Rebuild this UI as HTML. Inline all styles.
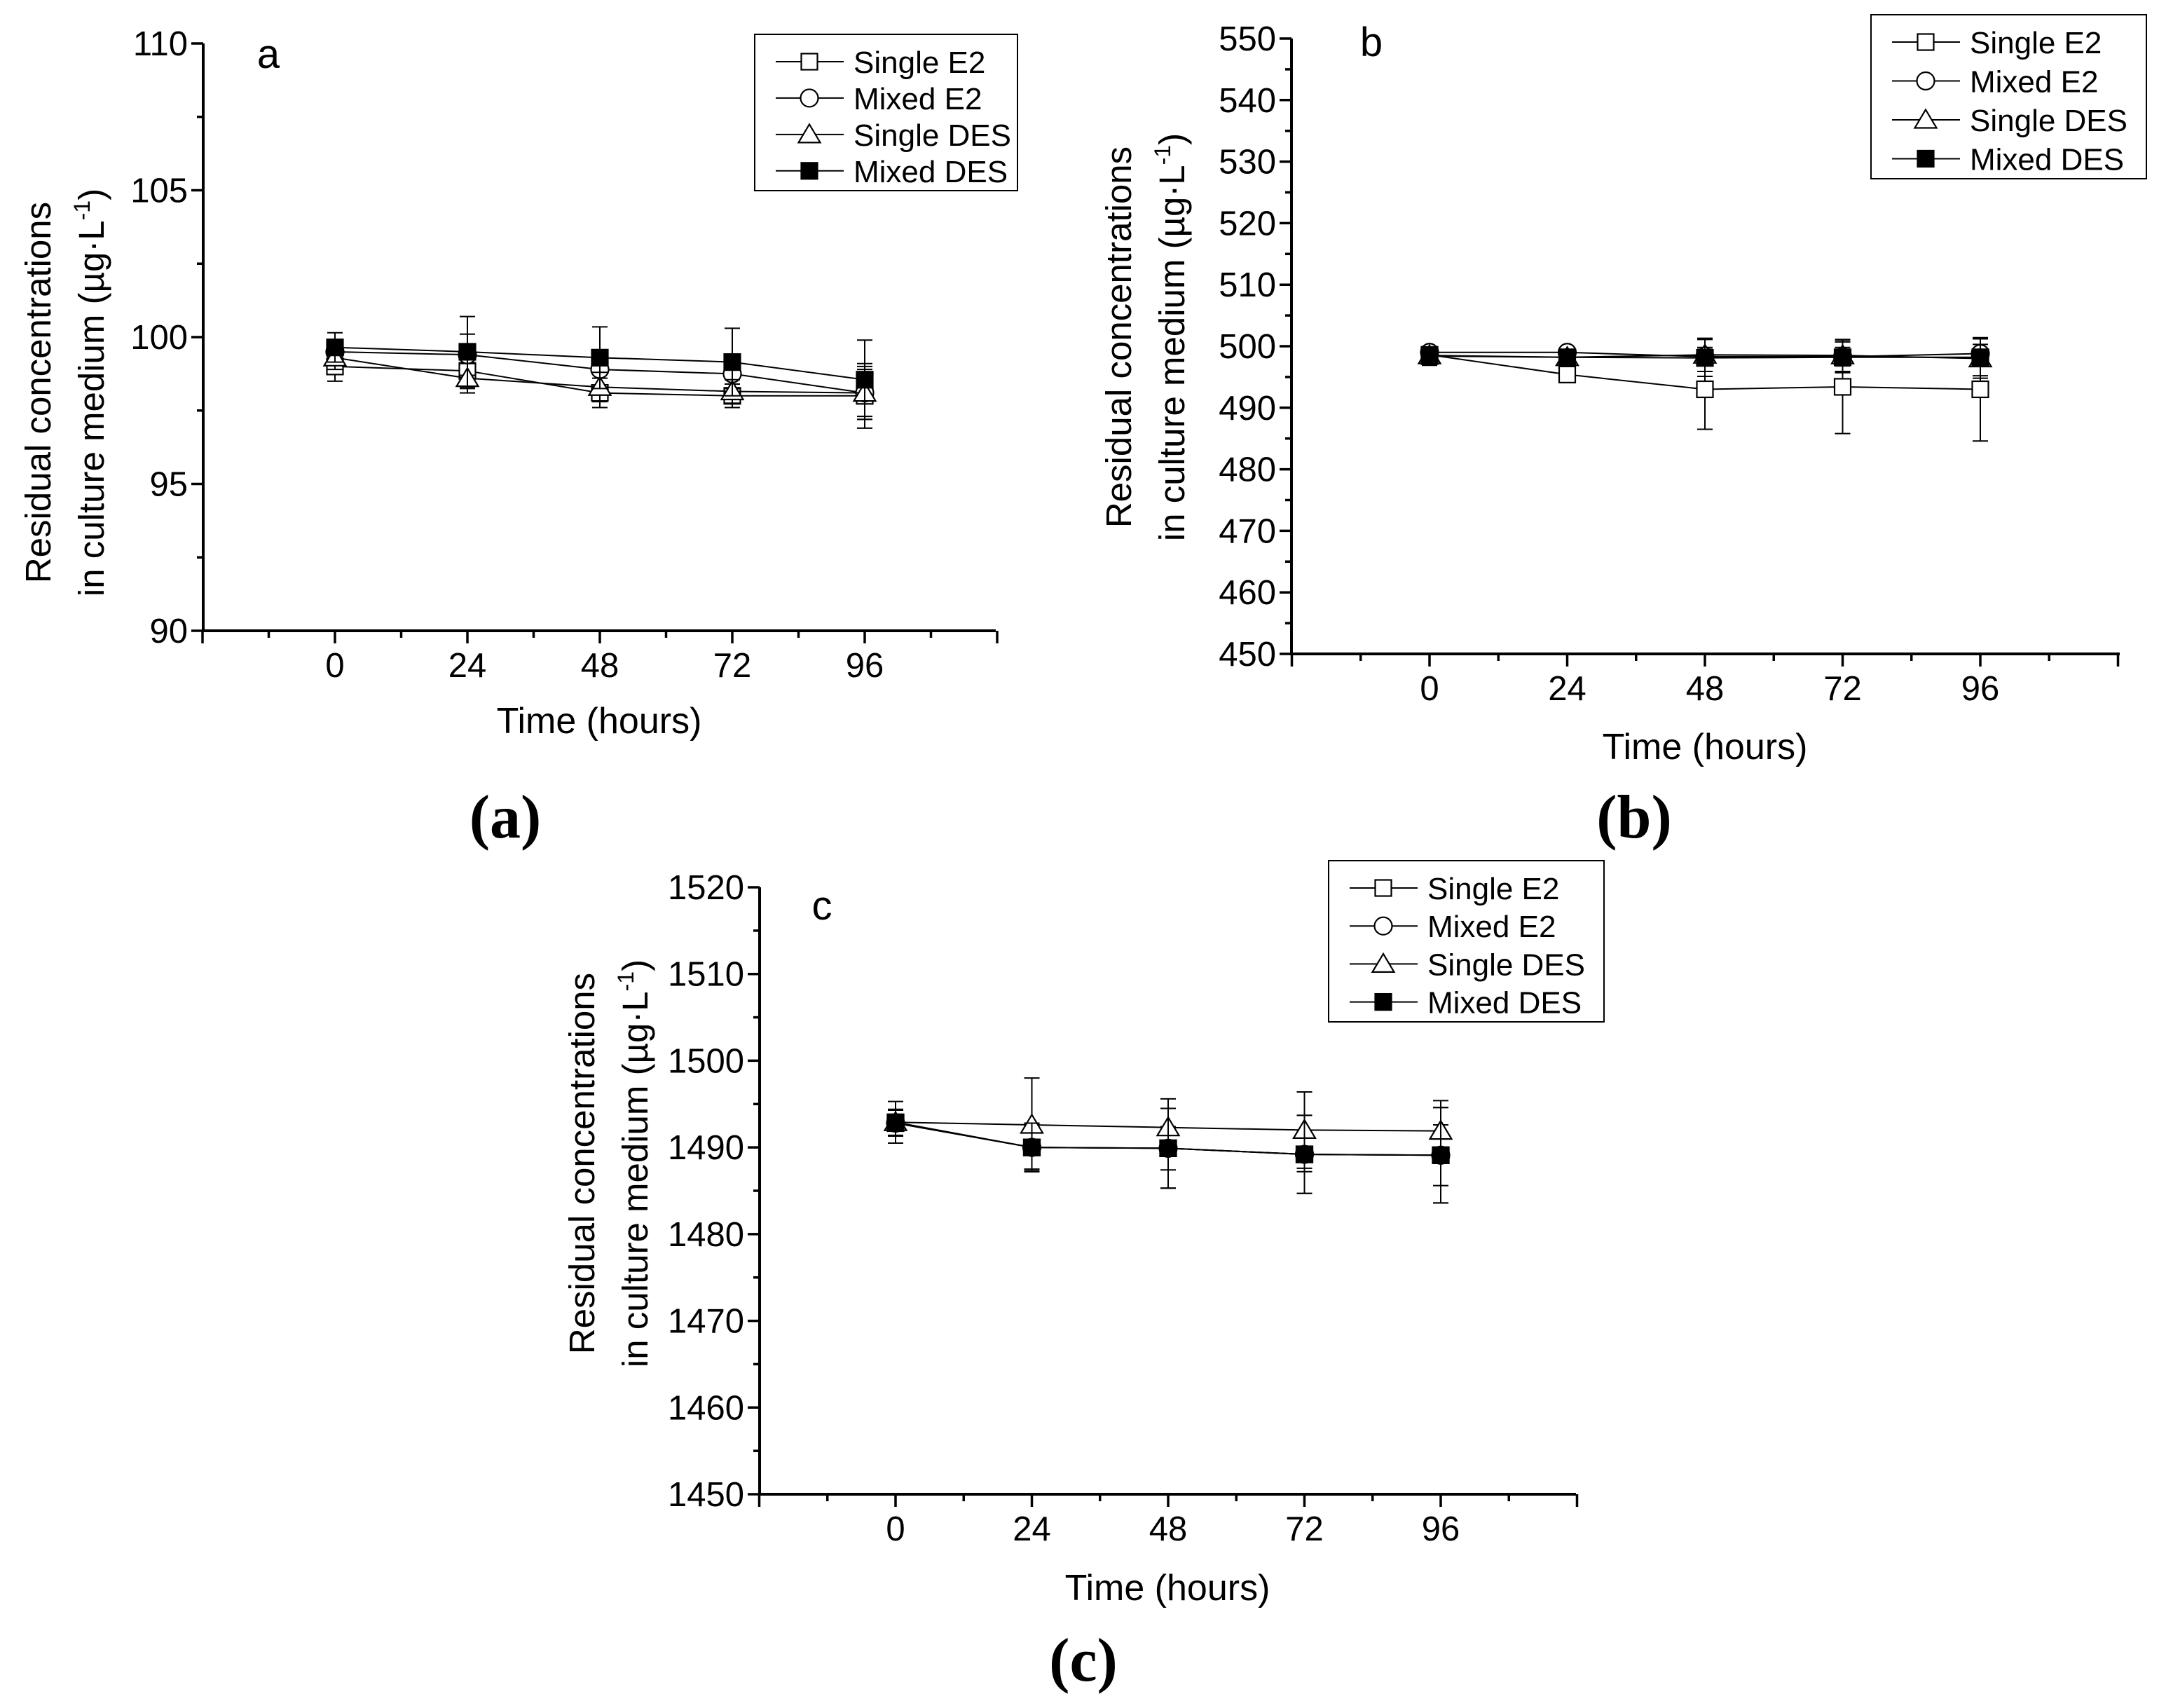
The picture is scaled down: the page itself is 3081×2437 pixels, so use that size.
<!DOCTYPE html>
<html><head><meta charset="utf-8"><style>
html,body{margin:0;padding:0;background:#fff;}
svg{display:block;}
text{font-family:"Liberation Sans",Arial,sans-serif;fill:#000;}
.cap{font-family:"Liberation Serif",serif;font-weight:bold;}
</style></head><body>
<svg id="fig" width="3081" height="2437" viewBox="0 0 3081 2437" xmlns="http://www.w3.org/2000/svg"></svg>
<script>
// shared categories
const hours = [0, 24, 48, 72, 96];
const seriesNames = ["Single E2", "Mixed E2", "Single DES", "Mixed DES"];
// panel a
const aTicks = [90, 95, 100, 105, 110];
const aSingleE2 = [99.0, 98.85, 98.1, 98.0, 98.0];
const aMixedE2 = [99.5, 99.4, 98.9, 98.75, 98.1];
const aSingleDES = [99.3, 98.6, 98.3, 98.15, 98.1];
const aMixedDES = [99.65, 99.5, 99.3, 99.15, 98.55];
const aErrSingleE2 = [0.5, 0.6, 0.5, 0.4, 1.1];
const aErrMixedE2 = [0.3, 0.7, 0.6, 0.5, 0.9];
const aErrSingleDES = [0.4, 0.5, 0.5, 0.4, 0.8];
const aErrMixedDES = [0.5, 1.2, 1.05, 1.15, 1.35];
// panel b
const bTicks = [450, 460, 470, 480, 490, 500, 510, 520, 530, 540, 550];
const bSingleE2 = [498.6, 495.4, 493.0, 493.4, 493.0];
const bMixedE2 = [499.0, 499.0, 498.3, 498.3, 498.8];
const bSingleDES = [498.5, 498.2, 498.6, 498.5, 498.0];
const bMixedDES = [498.4, 498.2, 498.1, 498.2, 498.2];
const bErrSingleE2 = [0.6, 1.3, 6.5, 7.6, 8.4];
const bErrMixedE2 = [0.5, 0.8, 1.5, 1.5, 1.5];
const bErrSingleDES = [0.8, 1.0, 2.7, 2.6, 3.2];
const bErrMixedDES = [1.5, 1.2, 3.0, 2.5, 3.0];
// panel c
const cTicks = [1450, 1460, 1470, 1480, 1490, 1500, 1510, 1520];
const cSingleE2 = [1492.8, 1490.0, 1489.9, 1489.2, 1489.1];
const cMixedE2 = [1492.8, 1490.0, 1489.9, 1489.2, 1489.1];
const cSingleDES = [1492.9, 1492.6, 1492.3, 1492.0, 1491.9];
const cMixedDES = [1492.9, 1490.0, 1489.9, 1489.2, 1489.1];
const cErrSingleE2 = [1.5, 2.5, 4.6, 4.5, 5.5];
const cErrMixedE2 = [1.5, 2.7, 2.5, 2.0, 3.5];
const cErrSingleDES = [1.5, 5.4, 3.3, 4.4, 3.5];
const cErrMixedDES = [2.4, 2.8, 4.6, 4.5, 5.5];

const NS = "http://www.w3.org/2000/svg";
const svg = document.getElementById("fig");
function mk(tag, attrs, parent) {
  const e = document.createElementNS(NS, tag);
  for (const k in attrs) e.setAttribute(k, attrs[k]);
  (parent || svg).appendChild(e);
  return e;
}
function drawMarker(g, kind, cx, cy) {
  const s = 11.5;
  let m;
  if (kind === 0) m = mk("rect", {x: cx - s, y: cy - s, width: 2*s, height: 2*s, fill: "#fff", stroke: "#000", "stroke-width": 2.2}, g);
  else if (kind === 1) m = mk("circle", {cx: cx, cy: cy, r: s + 1, fill: "#fff", stroke: "#000", "stroke-width": 2.2}, g);
  else if (kind === 2) m = mk("polygon", {points: (cx) + "," + (cy - s - 3) + " " + (cx - s - 4) + "," + (cy + s) + " " + (cx + s + 4) + "," + (cy + s), fill: "#fff", stroke: "#000", "stroke-width": 2.2}, g);
  else m = mk("rect", {x: cx - s, y: cy - s, width: 2*s, height: 2*s, fill: "#000", stroke: "#000", "stroke-width": 2.2}, g);
  return m;
}
function drawPanel(p) {
  const g = mk("g", {});
  
  
  const ymin = p.ticks[0], ymax = p.ticks[p.ticks.length - 1];
  const X = h => p.x0 + (h - 0) * (p.x96 - p.x0) / 96;
  const Y = v => p.bottom - (v - ymin) * (p.bottom - p.top) / (ymax - ymin);
  const ax = mk("path", {d: "M" + p.left + "," + p.top + " L" + p.left + "," + p.bottom + " L" + p.right + "," + p.bottom, fill: "none", stroke: "#000", "stroke-width": 4}, g);
  
  
  const step = p.ticks[1] - p.ticks[0];
  for (let i = 0; i < p.ticks.length; i++) {
    const v = p.ticks[i], y = Y(v);
    mk("line", {x1: p.left - 17, y1: y, x2: p.left, y2: y, stroke: "#000", "stroke-width": 3.5}, g);
    const t = mk("text", {x: p.left - 22, y: y + 17, "text-anchor": "end", "font-size": 49}, g);
    t.textContent = v;
    
    
    if (i < p.ticks.length - 1) {
      const ym = Y(v + step / 2);
      mk("line", {x1: p.left - 9, y1: ym, x2: p.left, y2: ym, stroke: "#000", "stroke-width": 3.5}, g);
    }
  }
  for (let h = -24; h <= 120; h += 12) {
    const x = X(h);
    const major = (h % 24 === 0);
    mk("line", {x1: x, y1: p.bottom, x2: x, y2: p.bottom + (major ? 18 : 10), stroke: "#000", "stroke-width": 3.5}, g);
  }
  hours.forEach(h => {
    const t = mk("text", {x: X(h), y: p.bottom + 66, "text-anchor": "middle", "font-size": 49}, g);
    t.textContent = h;
    
    
  });
  const xt = mk("text", {x: p.xtx, y: p.xty, "text-anchor": "middle", "font-size": 52}, g);
  xt.textContent = "Time (hours)";
  
  
  const yt = mk("text", {transform: "translate(" + p.ytx + "," + p.yty + ") rotate(-90)", "text-anchor": "middle", "font-size": 51}, g);
  
  
  const l1 = mk("tspan", {x: 0, y: 0}, yt); l1.textContent = "Residual concentrations";
  const l2 = mk("tspan", {x: 0, y: 76}, yt); l2.textContent = "in culture medium (\u00b5g\u00b7L";
  const l3 = mk("tspan", {dy: -20, "font-size": 32}, yt); l3.textContent = "-1";
  const l4 = mk("tspan", {dy: 20}, yt); l4.textContent = ")";
  const pl = mk("text", {x: p.lx, y: p.ly, "text-anchor": "middle", "font-size": 58}, g);
  pl.textContent = p.id;
  
  
  p.series.forEach((vals, si) => {
    const sg = mk("g", {}, g);
    
    
    const errs = p.errs[si];
    hours.forEach((h, i) => {
      const x = X(h), y1 = Y(vals[i] + errs[i]), y2 = Y(vals[i] - errs[i]);
      mk("line", {x1: x, y1: y1, x2: x, y2: y2, stroke: "#000", "stroke-width": 2}, sg);
      mk("line", {x1: x - 11, y1: y1, x2: x + 11, y2: y1, stroke: "#000", "stroke-width": 2}, sg);
      mk("line", {x1: x - 11, y1: y2, x2: x + 11, y2: y2, stroke: "#000", "stroke-width": 2}, sg);
    });
    const pts = hours.map((h, i) => X(h) + "," + Y(vals[i])).join(" ");
    const pl2 = mk("polyline", {points: pts, fill: "none", stroke: "#000", "stroke-width": 2}, sg);
    
    
    hours.forEach((h, i) => {
      const m = drawMarker(sg, si, X(h), Y(vals[i]));
      
      
    });
  });
  const lg = mk("g", {}, g);
  
  
  mk("rect", {x: p.lgx, y: p.lgy, width: p.lgw, height: p.lgh, fill: "#fff", stroke: "#000", "stroke-width": 2}, lg);
  seriesNames.forEach((n, i) => {
    const ry = p.lgy + 39 + i * (p.lgh - 62) / 3.1;
    const e = mk("g", {}, lg);
    
    
    mk("line", {x1: p.lgx + 30, y1: ry, x2: p.lgx + 127, y2: ry, stroke: "#000", "stroke-width": 2}, e);
    drawMarker(e, i, p.lgx + 78, ry);
    const t = mk("text", {x: p.lgx + 141, y: ry + 16, "font-size": 44}, e);
    t.textContent = n;
  });
  const cp = mk("text", {x: p.capx, y: p.capy, "text-anchor": "middle", "font-size": 88, "class": "cap"}, g);
  cp.textContent = "(" + p.id + ")";
  
  
}
drawPanel({id: "a", ticks: aTicks, left: 290, right: 1421, top: 62, bottom: 900, x0: 478, x96: 1234,
  series: [aSingleE2, aMixedE2, aSingleDES, aMixedDES], errs: [aErrSingleE2, aErrMixedE2, aErrSingleDES, aErrMixedDES],
  xtx: 855, xty: 1046, ytx: 72, yty: 560, lx: 383, ly: 97, lgx: 1077, lgy: 49, lgw: 375, lgh: 223, capx: 721, capy: 1195});
drawPanel({id: "b", ticks: bTicks, left: 1843, right: 3025, top: 55, bottom: 933, x0: 2040, x96: 2826,
  series: [bSingleE2, bMixedE2, bSingleDES, bMixedDES], errs: [bErrSingleE2, bErrMixedE2, bErrSingleDES, bErrMixedDES],
  xtx: 2433, xty: 1083, ytx: 1614, yty: 481, lx: 1957, ly: 80, lgx: 2670, lgy: 21, lgw: 393, lgh: 234, capx: 2332, capy: 1195});
drawPanel({id: "c", ticks: cTicks, left: 1084, right: 2249, top: 1266, bottom: 2132, x0: 1278, x96: 2056,
  series: [cSingleE2, cMixedE2, cSingleDES, cMixedDES], errs: [cErrSingleE2, cErrMixedE2, cErrSingleDES, cErrMixedDES],
  xtx: 1666, xty: 2283, ytx: 848, yty: 1660, lx: 1173, ly: 1312, lgx: 1896, lgy: 1228, lgw: 393, lgh: 230, capx: 1546, capy: 2398});
</script>
</body></html>
